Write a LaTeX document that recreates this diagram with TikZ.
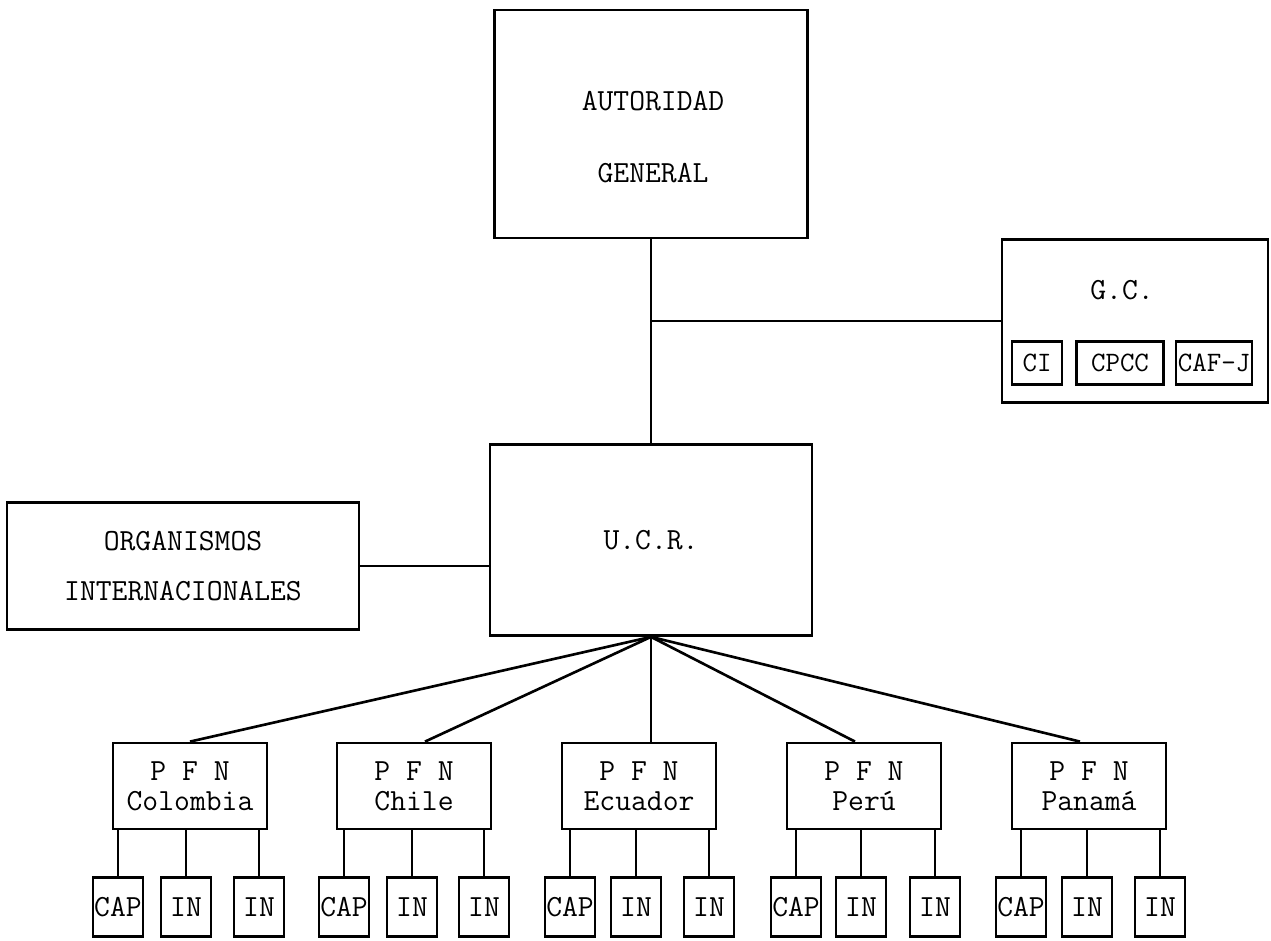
\documentclass[tikz,border=0pt]{standalone}

\tikzstyle{unit}=[rectangle,draw=black,line width=1.6pt,align=center,font=\ttfamily\fontsize{17.5}{17}\selectfont]
\tikzstyle{pfn}=[unit,minimum width=3.08cm,minimum height=1.72cm]
\tikzstyle{sub}=[unit,minimum width=1cm,minimum height=1.18cm,inner sep=0pt]
\tikzstyle{gcsub}=[sub,minimum height=0.86cm,font=\ttfamily\fontsize{16}{17}\selectfont]
\tikzstyle{caption}=[align=center,font=\ttfamily\fontsize{17.5}{17}\selectfont]
\tikzstyle{link}=[line width=1.5pt]

\begin{document}
\begin{tikzpicture}[x=0.02cm,y=-0.02cm]
	\useasboundingbox (0,0) rectangle (1271,940);

	% Top
	\node[unit,minimum width=6.26cm,minimum height=4.56cm] (ag) at (651,124) {};
	\node[caption] (agtext) at (653,137) {AUTORIDAD\\[24pt]GENERAL};
	\node[unit,minimum width=5.32cm,minimum height=3.26cm] (gc) at (1135,321) {};
	\node[caption] (gctext) at (1122,290) {G.C.};
	\node[gcsub,minimum width=1cm] (ci) at (1037,363) {CI};
	\node[gcsub,minimum width=1.74cm] (cpcc) at (1120,363) {CPCC};
	\node[gcsub,minimum width=1.52cm] (cafj) at (1214,363) {CAF-J};

	% Middle
	\node[unit,minimum width=6.44cm,minimum height=3.82cm] (ucr) at (651,540) {U.C.R.};
	\node[unit,minimum width=7.04cm,minimum height=2.54cm] (oi) at (183,566) {ORGANISMOS\\[11.5pt]INTERNACIONALES};

	\draw[link] (ag.south) -- (ucr.north);
	\draw[link] (ag.south |- gc.west) -- (gc.west);
	\draw[link] (oi.east) -- (oi.east -| ucr.west);

	% PFN
	\node[pfn] (pcol) at (190,786) {P F N\\Colombia};
	\node[pfn] (pchi) at (414,786) {P F N\\Chile};
	\node[pfn] (pecu) at (639,786) {P F N\\Ecuador};
	\node[pfn] (pper) at (864,786) {P F N\\Perú};
	\node[pfn] (ppan) at (1089,786) {P F N\\Panamá};

	\draw[link] (ucr.south) -- (pcol.north);
	\draw[link] (ucr.south) -- ([xshift=0.22cm]pchi.north);
	\draw[link] (ucr.south) -- (ucr.south |- pecu.north);
	\draw[link] (ucr.south) -- ([xshift=-0.18cm]pper.north);
	\draw[link] (ucr.south) -- ([xshift=-0.18cm]ppan.north);

	% Bottom row
	\node[sub] (colcap) at (118,907) {CAP};
	\node[sub] (colin1) at (186,907) {IN};
	\node[sub] (colin2) at (259,907) {IN};
	\node[sub] (chicap) at (344,907) {CAP};
	\node[sub] (chiin1) at (412,907) {IN};
	\node[sub] (chiin2) at (484,907) {IN};
	\node[sub] (ecucap) at (570,907) {CAP};
	\node[sub] (ecuin1) at (636,907) {IN};
	\node[sub] (ecuin2) at (709,907) {IN};
	\node[sub] (percap) at (796,907) {CAP};
	\node[sub] (perin1) at (861,907) {IN};
	\node[sub] (perin2) at (935,907) {IN};
	\node[sub] (pancap) at (1021,907) {CAP};
	\node[sub] (panin1) at (1087,907) {IN};
	\node[sub] (panin2) at (1160,907) {IN};

	\draw[link] (colcap.north) -- (colcap.north |- pcol.south);
	\draw[link] (colin1.north) -- (colin1.north |- pcol.south);
	\draw[link] (colin2.north) -- (colin2.north |- pcol.south);
	\draw[link] (chicap.north) -- (chicap.north |- pchi.south);
	\draw[link] (chiin1.north) -- (chiin1.north |- pchi.south);
	\draw[link] (chiin2.north) -- (chiin2.north |- pchi.south);
	\draw[link] (ecucap.north) -- (ecucap.north |- pecu.south);
	\draw[link] (ecuin1.north) -- (ecuin1.north |- pecu.south);
	\draw[link] (ecuin2.north) -- (ecuin2.north |- pecu.south);
	\draw[link] (percap.north) -- (percap.north |- pper.south);
	\draw[link] (perin1.north) -- (perin1.north |- pper.south);
	\draw[link] (perin2.north) -- (perin2.north |- pper.south);
	\draw[link] (pancap.north) -- (pancap.north |- ppan.south);
	\draw[link] (panin1.north) -- (panin1.north |- ppan.south);
	\draw[link] (panin2.north) -- (panin2.north |- ppan.south);
\end{tikzpicture}
\end{document}
